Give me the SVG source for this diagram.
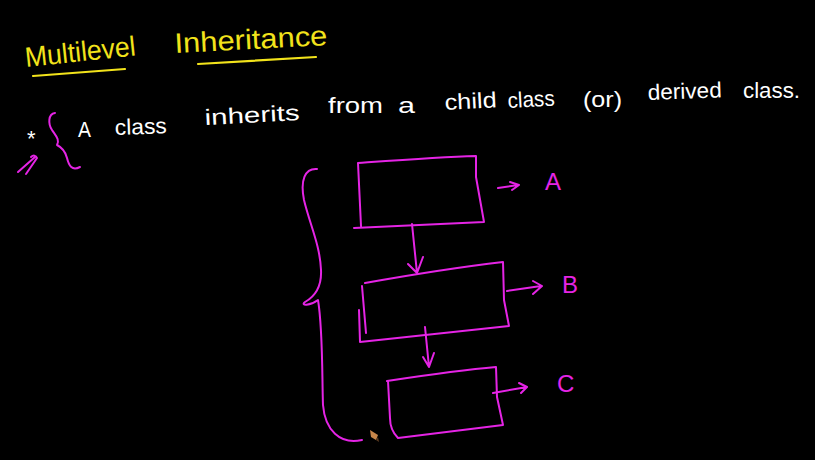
<svg xmlns="http://www.w3.org/2000/svg" width="815" height="460" viewBox="0 0 815 460">
<style>
.bg{fill:#000}
.ink{fill:none;stroke:#e524e5;stroke-width:2;stroke-linecap:round;stroke-linejoin:round}
.yl{fill:none;stroke:#f2e31b;stroke-width:2.2;stroke-linecap:round}
.ty{fill:#f2e31b;font-family:"Liberation Sans",Arial,sans-serif;font-size:28px}
.tw{fill:#ffffff;font-family:"Liberation Sans",Arial,sans-serif;font-size:22px}
.tp{fill:#e524e5;font-family:"Liberation Sans",Arial,sans-serif;font-size:24px}
</style>
<rect class="bg" x="0" y="0" width="815" height="460"/>
<g id="title">
<text class="ty" x="26" y="67" textLength="111" lengthAdjust="spacingAndGlyphs" transform="rotate(-6 26 67)">Multilevel</text>
<path class="yl" d="M33,76 L125,69"/>
<text class="ty" x="175" y="53" textLength="153" lengthAdjust="spacingAndGlyphs" transform="rotate(-3 175 53)">Inheritance</text>
<path class="yl" d="M198,64 L316,57"/>
</g>
<g id="statement">
<text class="tw" x="27" y="146" font-size="20">*</text>
<path class="ink" d="M55,113 C48,114 48,124 52,130 C56,136 60,140 57,145 C61,147 65,150 67,158 C69,166 72,171 80,167"/>
<path class="ink" d="M18,172 L35,157 M26,174 L37,158 C36,155 33,155 31,157"/>
<text class="tw" x="78" y="137" textLength="13" lengthAdjust="spacingAndGlyphs">A</text>
<text class="tw" x="115" y="135" textLength="52" lengthAdjust="spacingAndGlyphs" transform="rotate(-2 115 135)">class</text>
<text class="tw" x="205" y="125" textLength="95" lengthAdjust="spacingAndGlyphs" transform="rotate(-3 205 125)">inherits</text>
<text class="tw" x="328" y="113" textLength="55" lengthAdjust="spacingAndGlyphs">from</text>
<text class="tw" x="398" y="113" textLength="17" lengthAdjust="spacingAndGlyphs">a</text>
<text class="tw" x="445" y="110" textLength="52" lengthAdjust="spacingAndGlyphs" transform="rotate(-3 445 110)">child</text>
<text class="tw" x="508" y="108" textLength="47" lengthAdjust="spacingAndGlyphs" transform="rotate(-3 508 108)">class</text>
<text class="tw" x="583" y="107" textLength="39" lengthAdjust="spacingAndGlyphs">(or)</text>
<text class="tw" x="648" y="100" textLength="74" lengthAdjust="spacingAndGlyphs" transform="rotate(-2 648 100)">derived</text>
<text class="tw" x="743" y="98" textLength="57" lengthAdjust="spacingAndGlyphs">class.</text>
</g>
<g id="brace">
<path class="ink" d="M317,169 C305,168 300,180 304,200 C310,225 320,245 321,270 C322,290 312,298 305,302 C300,306 310,306 318,300 C323,330 322,380 323,405 C325,430 340,445 362,440"/>
</g>
<g id="nodeA">
<path class="ink" d="M358,163 C400,160 440,157 476,156 L476,177 L484,222 L354,228 M358,163 L361,226"/>
</g>
<g id="nodeB">
<path class="ink" d="M365,283 C410,275 460,267 503,262 L504,300 L509,326 L360,342 L359,310 M362,286 L366,333"/>
</g>
<g id="nodeC">
<path class="ink" d="M387,381 C420,376 460,370 496,367 L497,397 L503,425 L398,438 C392,432 390,425 390,418 L388,381"/>
</g>
<g id="labels">
<text class="tp" x="545" y="190">A</text>
<text class="tp" x="562" y="293">B</text>
<text class="tp" x="557" y="392">C</text>
</g>
<g id="connectors">
<path class="ink" d="M412,224 L417,273 M408,264 L417,273 L423,257"/>
<path class="ink" d="M425,327 L429,367 M423,357 L429,367 L434,353"/>
<path class="ink" d="M498,188 L518,185 M510,182 L519,185 L512,190"/>
<path class="ink" d="M507,291 L541,286 M533,281 L542,286 L533,294"/>
<path class="ink" d="M493,393 L527,387 M519,383 L527,387 L521,393"/>
</g>
<g id="cursor">
<polygon points="370,430 378,435 376,440 371,437" fill="#c8864a"/>
<polygon points="376,440 379,442 378,437" fill="#5a3a20"/>
</g>
</svg>
